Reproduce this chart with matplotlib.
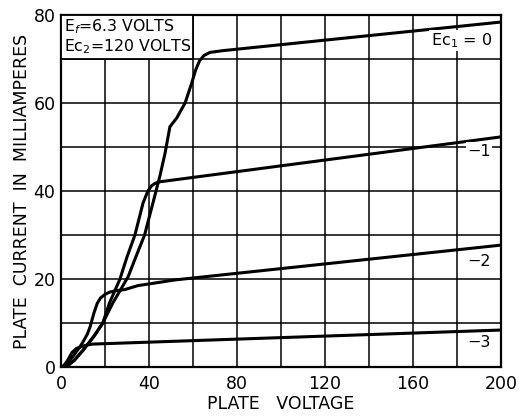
import matplotlib
matplotlib.use("Agg")
import matplotlib.pyplot as plt
from matplotlib.patches import Rectangle

# plate voltage (V) / plate current (mA), one pair per grid bias
v_ec0 = [0, 3, 6, 10, 15, 19, 23.5, 27, 30.5, 34, 38, 41.8, 45, 47.3, 49.5, 52.6, 56.4, 59.4, 61.2, 63, 65, 67.7, 73.6, 200]
i_ec0 = [0, 0.3, 1.5, 3.8, 7, 10, 14.5, 17.5, 20.5, 25, 30, 37.3, 43.5, 48.6, 54.6, 56.6, 60, 64.5, 67.5, 69.6, 70.8, 71.5, 71.9, 78.4]

v_ec1 = [0, 3, 6, 10, 15, 19, 22, 26.8, 30, 33.6, 37.3, 39.5, 41.2, 43, 45, 200]
i_ec1 = [0, 0.3, 1.5, 3.8, 7, 10, 14.5, 20, 25, 30, 37.3, 40, 41.2, 41.8, 42.1, 52.3]

v_ec2 = [0, 3, 6, 8.5, 10, 12, 13.2, 15, 16.5, 18, 20, 22, 24.5, 29, 35, 52, 200]
i_ec2 = [0, 0.8, 2.8, 4.5, 5.7, 7.5, 9.1, 12.3, 14.5, 15.7, 16.5, 17, 17.3, 17.6, 18.5, 19.8, 27.7]

v_ec3 = [0, 1, 3, 5, 7, 9, 11, 14, 200]
i_ec3 = [0, 0.1, 1.5, 3.3, 4.2, 4.6, 4.9, 5.2, 8.4]

x_ticks = [0, 40, 80, 120, 160, 200]
y_ticks = [0, 20, 40, 60, 80]

curves = [(v_ec0, i_ec0), (v_ec1, i_ec1), (v_ec2, i_ec2), (v_ec3, i_ec3)]

fig = plt.figure(figsize=(5.19, 4.20), dpi=100)
ax = fig.add_axes([61 / 519, 1 - 367 / 420, 440 / 519, 352 / 420])

for v, i in curves:
    ax.plot(v, i, color="black", lw=2.2, solid_capstyle="round", solid_joinstyle="round", zorder=4)

ax.set_xlim(0, 200)
ax.set_ylim(0, 80)
ax.set_xticks(range(0, 201, 20))
ax.set_yticks(range(0, 81, 10))
ax.grid(True, color="black", lw=1.1)
ax.set_axisbelow(True)
ax.set_xticklabels([str(t) if t in x_ticks else "" for t in range(0, 201, 20)])
ax.set_yticklabels([str(t) if t in y_ticks else "" for t in range(0, 81, 10)])
ax.tick_params(length=0, labelsize=12.5)
ax.tick_params(axis="x", pad=6)
ax.tick_params(axis="y", pad=4)
for spine in ax.spines.values():
    spine.set_linewidth(1.6)

# operating conditions box in the top left corner
ax.add_patch(Rectangle((0, 70), 60, 10, facecolor="white", edgecolor="black", lw=1.3, zorder=3))
ax.text(1.5, 77.3, "E$_f$=6.3 VOLTS", fontsize=11.3, va="center", ha="left", zorder=5)
ax.text(1.5, 72.9, "Ec$_2$=120 VOLTS", fontsize=11.3, va="center", ha="left", zorder=5)

labels = [("Ec$_1$ = 0", 182, 74.2), ("\u22121", 190, 49), ("\u22122", 190, 24), ("\u22123", 190, 5.5)]
for txt, x, y in labels:
    ax.text(x, y, txt, fontsize=11.5, ha="center", va="center", zorder=5,
            bbox=dict(facecolor="white", edgecolor="none", pad=1))

ax.set_xlabel("PLATE   VOLTAGE", fontsize=12.5, labelpad=1)
ax.set_ylabel("PLATE  CURRENT  IN  MILLIAMPERES", fontsize=12.5, labelpad=2)

fig.savefig("out.png", dpi=100)
